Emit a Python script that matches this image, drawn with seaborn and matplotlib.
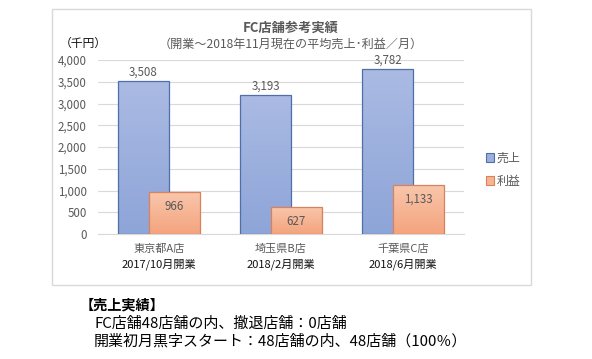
import matplotlib

matplotlib.use("Agg")

import matplotlib.pyplot as plt
import matplotlib.transforms as mtransforms
import numpy as np
import pandas as pd
import seaborn as sns
from matplotlib.colors import LinearSegmentedColormap
from matplotlib.patches import Rectangle

# Daten
stores = ["東京都A店", "埼玉県B店", "千葉県C店"]
opened = ["2017/10月開業", "2018/2月開業", "2018/6月開業"]
sales = [3508, 3193, 3782]
profit = [966, 627, 1133]
series = ["売上", "利益"]
yticks = [0, 500, 1000, 1500, 2000, 2500, 3000, 3500, 4000]

BLUE = "#9DB0DD"
BLUE_TOP, BLUE_BOTTOM = "#AABAE3", "#8EA5D8"
BLUE_EDGE = "#4F6FA8"
ORANGE = "#F6B592"
ORANGE_TOP, ORANGE_BOTTOM = "#F9C7AC", "#F4A47E"
ORANGE_EDGE = "#D9815A"
GRAY = "#595959"

df = pd.DataFrame(
    {
        "store": stores * 2,
        "value": sales + profit,
        "kind": [series[0]] * len(stores) + [series[1]] * len(stores),
    }
)

sns.set_theme(style="white")
plt.rcParams["font.family"] = ["Noto Sans CJK JP", "DejaVu Sans"]

fig = plt.figure(figsize=(5.92, 3.59), dpi=100)
ax = fig.add_axes([98 / 592, 1 - 234 / 359, 366 / 592, 174 / 359])

# Rahmen um das Diagramm (wie Excel)
fig.patches.append(
    Rectangle((52 / 592, 1 - 285 / 359), 479 / 592, 276 / 359, transform=fig.transFigure,
              fill=False, edgecolor="#D9D9D9", linewidth=1)
)

sns.barplot(
    data=df,
    x="store",
    y="value",
    hue="kind",
    hue_order=series,
    palette=[BLUE, ORANGE],
    saturation=1,
    width=0.508,
    gap=-0.654,
    dodge=True,
    legend=True,
    ax=ax,
)

# Verlaufsfuellung wie in Excel, orange liegt ueber blau
grad = np.linspace(0, 1, 64).reshape(-1, 1)
styles = [(BLUE_TOP, BLUE_BOTTOM, BLUE_EDGE, 3.0), (ORANGE_TOP, ORANGE_BOTTOM, ORANGE_EDGE, 3.2)]
for cont, (c_top, c_bot, ec, z) in zip(ax.containers, styles):
    cmap = LinearSegmentedColormap.from_list("g", [c_top, c_bot])
    for p in cont:
        x0, y0 = p.get_x(), p.get_y()
        w, h = p.get_width(), p.get_height()
        im = ax.imshow(grad, cmap=cmap, aspect="auto", extent=(x0, x0 + w, y0, y0 + h),
                       origin="upper", zorder=z)
        im.set_clip_path(p)
        p.set_facecolor("none")
        p.set_edgecolor(ec)
        p.set_linewidth(0.9)
        p.set_zorder(z + 0.1)

ax.bar_label(ax.containers[0], labels=[f"{v:,}" for v in sales], padding=2,
             fontsize=8.3, color=GRAY, zorder=5)
ax.bar_label(ax.containers[1], labels=[f"{v:,}" for v in profit], padding=-15,
             fontsize=8.3, color=GRAY, zorder=5)

ax.set_ylim(0, 4000)
ax.set_xlim(-0.5, 2.5)
ax.set_yticks(yticks)
ax.set_yticklabels([f"{v:,}" for v in yticks], fontsize=8.3, color=GRAY)
ax.set_xticks(range(len(stores)))
ax.set_xticklabels(stores, fontsize=8, color=GRAY)
ax.tick_params(axis="y", length=0, pad=8)
ax.tick_params(axis="x", length=0, pad=7)
ax.set_xlabel("")
ax.set_ylabel("")
ax.grid(axis="y", color="#D9D9D9", linewidth=0.8, zorder=0)
ax.set_axisbelow(True)
for s in ["top", "right", "left"]:
    ax.spines[s].set_visible(False)
ax.spines["bottom"].set_color("#D9D9D9")
ax.spines["bottom"].set_linewidth(0.8)

# zweite Zeile der Kategorien
trans = mtransforms.blended_transform_factory(ax.transData, fig.transFigure)
for i, label in enumerate(opened):
    ax.text(i, 1 - 264 / 359, label, transform=trans, ha="center", va="center",
            fontsize=8, color="#111111")

leg = ax.legend(
    loc="center left",
    bbox_to_anchor=(1.03, 0.37),
    frameon=False,
    fontsize=8.6,
    handlelength=0.7,
    handleheight=0.7,
    handletextpad=0.2,
    labelspacing=0.85,
    title=None,
)
for t in leg.get_texts():
    t.set_color(GRAY)
for h, ec in zip(leg.legend_handles, [BLUE_EDGE, ORANGE_EDGE]):
    h.set_edgecolor(ec)
    h.set_linewidth(0.8)

# Titel
fig.text(291 / 592, 1 - 28 / 359, "FC店舗参考実績", ha="center", va="center",
         fontsize=9.5, fontweight="bold", color=GRAY)
fig.text(291 / 592, 1 - 44 / 359, "（開業～2018年11月現在の平均売上･利益／月）",
         ha="center", va="center", fontsize=8.7, color=GRAY)
fig.text(60 / 592, 1 - 43 / 359, "（千円）", ha="left", va="center", fontsize=8.5, color="#111111")

# Text unter dem Diagramm
fig.text(80 / 592, 1 - 305 / 359, "【売上実績】", ha="left", va="center",
         fontsize=10.2, fontweight="bold", color="black")
fig.text(94 / 592, 1 - 324 / 359, "FC店舗48店舗の内、撤退店舗：0店舗", ha="left", va="center",
         fontsize=10.8, color="black")
fig.text(94 / 592, 1 - 341 / 359, "開業初月黒字スタート：48店舗の内、48店舗（100％）", ha="left",
         va="center", fontsize=10.8, color="black")

fig.savefig("out.png", dpi=100)
plt.close(fig)
